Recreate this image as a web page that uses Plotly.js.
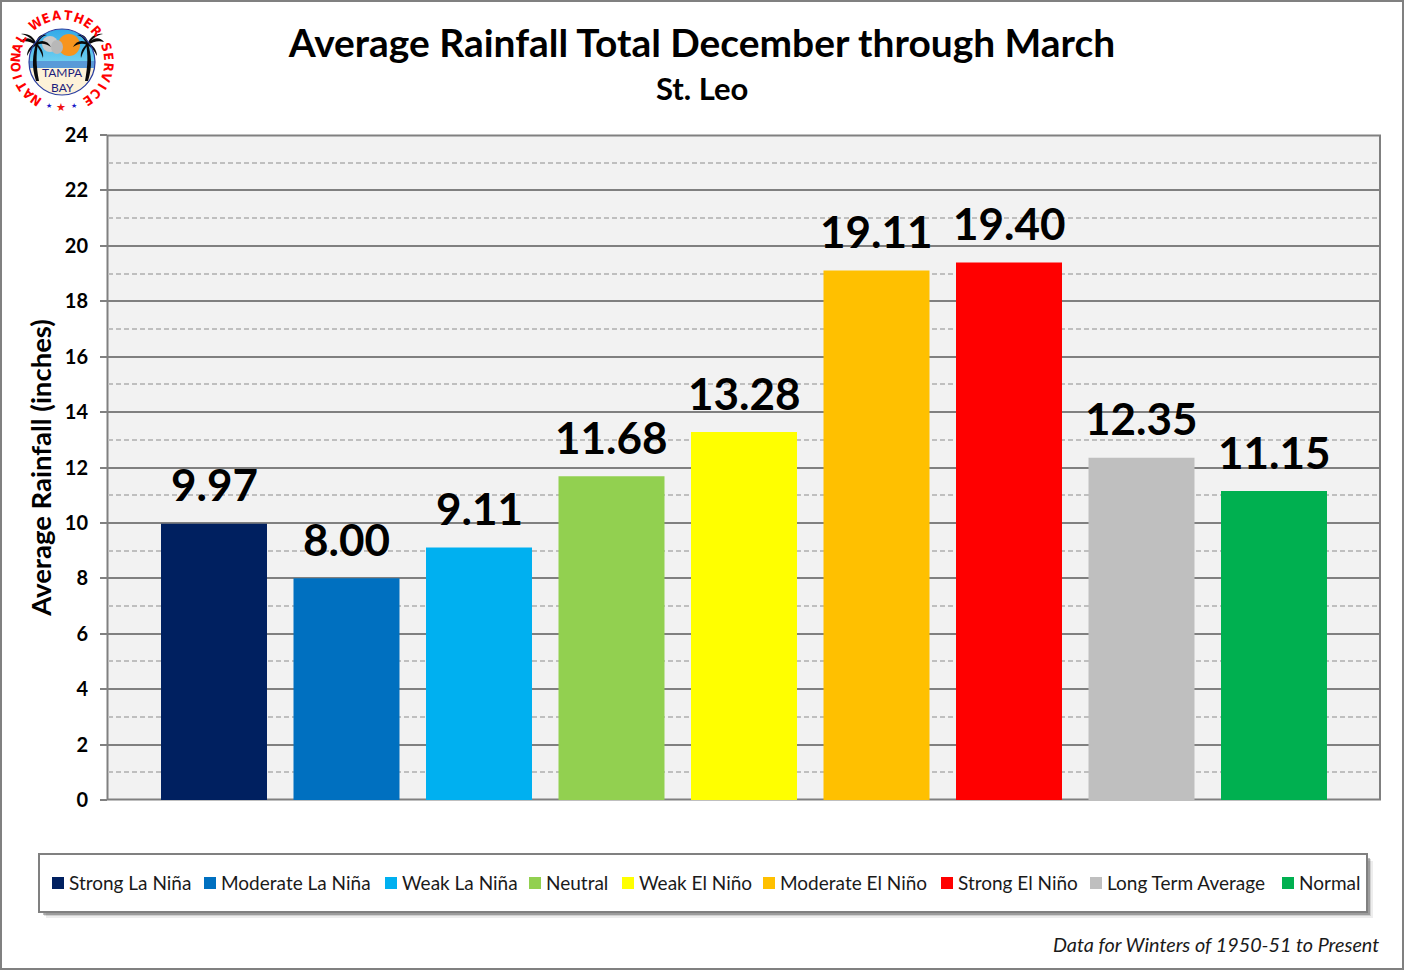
<!DOCTYPE html>
<html><head><meta charset="utf-8">
<script src="https://cdn.plot.ly/plotly-3.0.1.min.js"></script>
<style>html,body{margin:0;padding:0;background:#fff}</style></head>
<body><div id="chart" style="width:1404px;height:970px"></div>
<script>
const categories = ["Strong La Niña","Moderate La Niña","Weak La Niña","Neutral","Weak El Niño","Moderate El Niño","Strong El Niño","Long Term Average","Normal"];
const rainfall = [9.97,8.00,9.11,11.68,13.28,19.11,19.40,12.35,11.15];
const colors = ["#002060","#0070C0","#00B0F0","#92D050","#FFFF00","#FFC000","#FF0000","#BFBFBF","#00B050"];
const yTicks = [0,2,4,6,8,10,12,14,16,18,20,22,24];
const legendLeft = [52,204,385,529,622,763,941,1090,1282];
const FONT = "Lato, 'Noto Sans', sans-serif";
const W=1404,H=970,L=108,R=1380,T=135,B=800;
const BARGAP=(1272-1192.5)/1272, GROUPGAP=0.2;
const px=x=>(x-L)/(R-L), py=y=>1-(y-T)/(B-T);

const traces = categories.map((c,i)=>({
  type:'bar', name:c, x:["Winter"], y:[rainfall[i]],
  marker:{color:colors[i],line:{width:0}},
  hoverinfo:'name+y', showlegend:false
}));

const rect=(x0,y0,x1,y1,o)=>Object.assign({type:'rect',xref:'paper',yref:'paper',x0:px(x0),x1:px(x1),y0:py(y0),y1:py(y1),layer:'below'},o);
const shapes=[
  rect(1,1,W-1,H-1,{line:{color:'#808080',width:2},fillcolor:'rgba(0,0,0,0)'}),
  rect(46,861,1373,918,{line:{width:0},fillcolor:'rgba(0,0,0,0.07)'}),
  rect(44,859,1371,916,{line:{width:0},fillcolor:'rgba(0,0,0,0.12)'}),
  rect(43,858,1370,915,{line:{width:0},fillcolor:'rgba(0,0,0,0.25)'}),
  rect(39,854,1367,912,{line:{color:'#808080',width:2},fillcolor:'#fff'}),
  rect(107.5,135.5,1380,799.5,{line:{color:'#808080',width:2},fillcolor:'rgba(0,0,0,0)',layer:'between'}),
];
legendLeft.forEach((x,i)=>shapes.push(rect(x,877,x+12,889,{line:{width:0},fillcolor:colors[i]})));

const note=(x,y,text,o)=>Object.assign({xref:'paper',yref:'paper',x:px(x),y:py(y),text,showarrow:false,xanchor:'center',yanchor:'middle'},o);
const annotations=[
  note(702,88,"<b>St. Leo</b>",{font:{family:FONT,size:31,color:'#000'}}),
  note(1381,944,"Data for Winters of 1950-51 to Present",{xanchor:'right',font:{family:FONT,size:19.8,color:'#1a1a1a',style:'italic'}}),
  note(62,72.5,"TAMPA",{font:{family:FONT,size:12,color:'#1c1c7c'}}),
  note(62,88,"BAY",{font:{family:FONT,size:12,color:'#1c1c7c'}}),
  note(49,106,"★",{font:{family:"DejaVu Sans",size:7,color:'#1a1ac8'}}),
  note(61,107,"★",{font:{family:"DejaVu Sans",size:11,color:'#f01010'}}),
  note(74,106,"★",{font:{family:"DejaVu Sans",size:7,color:'#1a1ac8'}}),
];
// value labels sit on the bars through the y axis scale
const slot=(1-BARGAP)/categories.length;
rainfall.forEach((v,i)=>annotations.push({xref:'paper',yref:'y',x:BARGAP/2+(i+0.5)*slot,y:v,yshift:39.5,text:"<b>"+v.toFixed(2)+"</b>",showarrow:false,xanchor:'center',yanchor:'middle',font:{family:FONT,size:44,color:'#000'}}));
// legend labels
categories.forEach((c,i)=>annotations.push(note(legendLeft[i]+15,882.5,c,{xanchor:'left',font:{family:FONT,size:19,color:'#1a1a1a'}})));
// logo ring
[{t:"NATIONAL",start:-145,step:12.1},{t:"WEATHER",start:-34,step:13.7},{t:"SERVICE",start:71,step:12.5}].forEach(w=>{
  [...w.t].forEach((ch,i)=>{
    const deg=w.start+i*w.step,a=deg*Math.PI/180;
    annotations.push(note(62+46.5*Math.sin(a),62-46.5*Math.cos(a),"<b>"+ch+"</b>",{textangle:deg,font:{family:"'Liberation Sans Narrow','DejaVu Sans Condensed','Liberation Sans'",size:13,color:'#ff0000'}}));
  });
});

const palm=(cx,flip)=>`<g transform="translate(${cx} 5) scale(${flip} 1)" fill="#0a0a0a"><path d="M0 38 C-3 50 -5 60 0 76 L3 76 C0 60 0 50 2 38Z"/><path d="M0 38 C-6 32 -12 32 -16 37 C-10 35 -5 37 0 40Z"/><path d="M0 38 C-2 32 -8 28 -15 29 C-9 30 -4 34 0 39Z"/><path d="M0 38 C1 32 5 28 11 30 C6 31 3 35 1 40Z"/><path d="M0 38 C6 34 12 36 15 42 C9 38 5 38 1 40Z"/><path d="M0 38 C-5 40 -9 45 -9 51 C-6 45 -3 42 1 40Z"/><path d="M0 38 C5 42 8 47 7 53 C5 47 3 43 0 40Z"/></g>`;
const logo=`<svg xmlns="http://www.w3.org/2000/svg" width="124" height="124" viewBox="0 0 124 124">
<defs><clipPath id="c"><circle cx="62" cy="62" r="33"/></clipPath><linearGradient id="s" x1="0" y1="0" x2="0" y2="1"><stop offset="0" stop-color="#2fa8e8"/><stop offset="1" stop-color="#6fd0f0"/></linearGradient></defs>
<g clip-path="url(#c)"><rect x="28" y="28" width="68" height="34" fill="url(#s)"/><rect x="28" y="61" width="68" height="8" fill="#5a9ad8"/><rect x="28" y="68" width="68" height="28" fill="#fdf2d8"/>
<circle cx="69" cy="45" r="11" fill="#f7941d"/><ellipse cx="50" cy="44" rx="8" ry="8" fill="#c8c8c8"/><ellipse cx="57" cy="47" rx="6" ry="7" fill="#b8b8b8"/></g>
${palm(36,1)}${palm(88,-1)}
<circle cx="62" cy="62" r="33" fill="none" stroke="#2a3ea0" stroke-width="1.2"/></svg>`;

const layout={
  width:W,height:H,margin:{l:L,r:W-R,t:T,b:H-B},
  paper_bgcolor:'#fff',plot_bgcolor:'#F2F2F2',
  font:{family:FONT,color:'#000'},
  title:{text:"<b>Average Rainfall Total December through March</b>",x:0.5,xref:'container',xanchor:'center',y:0.955,yanchor:'middle',
    font:{family:FONT,size:38.9,color:'#000'}},
  barmode:'group',bargap:BARGAP,bargroupgap:GROUPGAP,
  xaxis:{type:'category',showticklabels:false,ticks:'',showgrid:false,showline:false,zeroline:false},
  yaxis:{range:[0,24],tickmode:'array',tickvals:yTicks,ticktext:yTicks.map(String),ticks:'outside',ticklen:7,tickwidth:2,tickcolor:'#808080',
    ticklabelstandoff:8,showline:false,zeroline:false,
    gridcolor:'#808080',gridwidth:2,
    minor:{dtick:1,showgrid:true,gridcolor:'#BFBFBF',gridwidth:1.5,griddash:'5px,3px',ticks:''},
    tickfont:{family:FONT,size:20,color:'#000',weight:700},
    title:{text:"<b>Average Rainfall (inches)</b>",font:{family:FONT,size:27.5,color:'#000'},standoff:5}},
  shapes,annotations,
  images:[{source:'data:image/svg+xml;charset=utf-8,'+encodeURIComponent(logo),xref:'paper',yref:'paper',x:px(0),y:py(0),sizex:124/(R-L),sizey:124/(B-T),xanchor:'left',yanchor:'top',layer:'above'}],
  showlegend:false
};
Plotly.newPlot('chart',traces,layout,{displayModeBar:false,responsive:false});
</script></body></html>
